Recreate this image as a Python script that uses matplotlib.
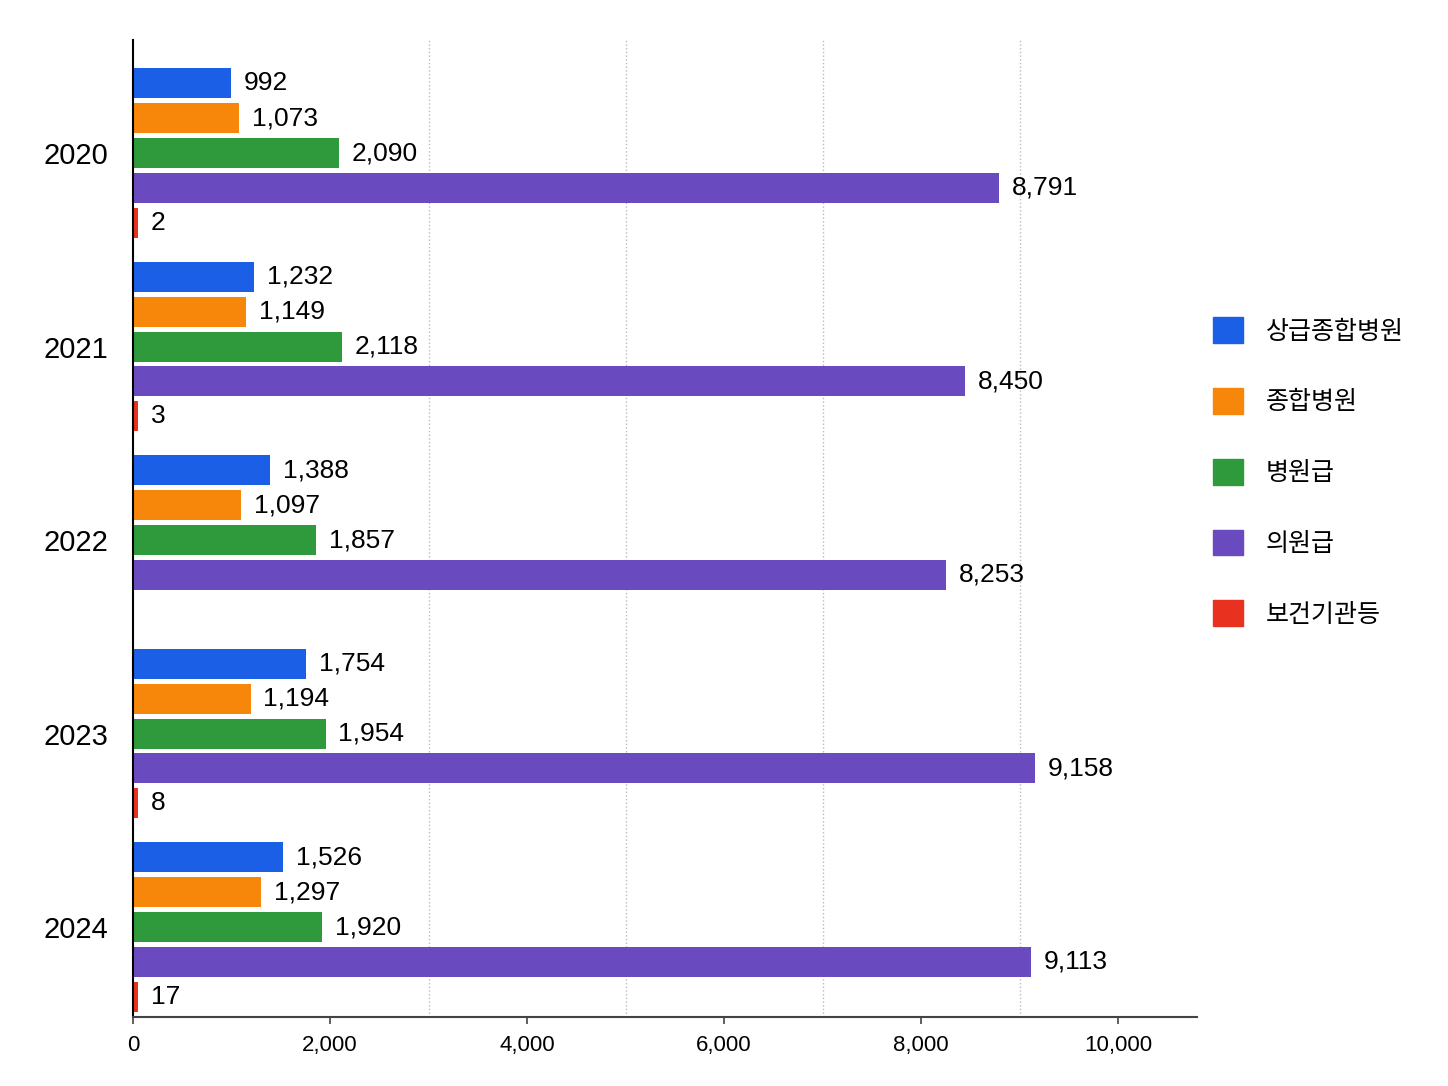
import matplotlib
matplotlib.use("Agg")
import matplotlib.pyplot as plt
import numpy as np
from matplotlib.patches import Patch

plt.rcParams['font.family'] = ['Liberation Sans', 'Noto Sans CJK KR', 'DejaVu Sans']

years = ['2020', '2021', '2022', '2023', '2024']
series = ['상급종합병원', '종합병원', '병원급', '의원급', '보건기관등']
s1 = [992, 1232, 1388, 1754, 1526]
s2 = [1073, 1149, 1097, 1194, 1297]
s3 = [2090, 2118, 1857, 1954, 1920]
s4 = [8791, 8450, 8253, 9158, 9113]
s5 = [2, 3, None, 8, 17]
colors = ['#1a5fe6', '#f7870a', '#2e9a3c', '#6a4bbf', '#e8311f']

fig = plt.figure(figsize=(14.48, 10.86), dpi=100)
ax = fig.add_axes([133/1448, 1-1017/1086, (1197-133)/1448, (1017-40)/1086])

step = 0.18
bh = 0.155
centers = np.arange(len(years))
all_series = [s1, s2, s3, s4, s5]
for i, (vals, c) in enumerate(zip(all_series, colors)):
    off = (i - 2) * step
    for j, v in enumerate(vals):
        if v is None:
            continue
        y = centers[j] + off
        ax.barh(y, max(v, 50), height=bh, color=c)
        ax.text(max(v, 50) + 130, y, f"{v:,}", va='center', ha='left', fontsize=19)

ax.set_ylim(4.465, -0.584)
ax.set_xlim(0, 10800)
ax.set_yticks(centers)
ax.set_yticklabels(years, fontsize=21)
ax.tick_params(axis='y', length=0, pad=18)
ax.set_xticks([0, 2000, 4000, 6000, 8000, 10000])
ax.set_xticklabels(['0', '2,000', '4,000', '6,000', '8,000', '10,000'], fontsize=16)
ax.tick_params(axis='x', length=5, width=1.2, pad=8, color='#444444')
ax.set_xticks([3000, 5000, 7000, 9000], minor=True)
ax.tick_params(axis='x', which='minor', length=0)
ax.grid(axis='x', which='minor', linestyle=':', color='#bbbbbb', linewidth=1)
ax.set_axisbelow(True)
for s in ['top', 'right']:
    ax.spines[s].set_visible(False)
ax.spines['left'].set_linewidth(1.5)
ax.spines['left'].set_color('black')
ax.spines['bottom'].set_linewidth(1.5)
ax.spines['bottom'].set_color('#444444')

handles = [Patch(facecolor=c, edgecolor=c) for c in colors]
fig.legend(handles, series, loc='center left', bbox_to_anchor=(1213/1448, 1-472/1086),
           frameon=False, fontsize=18, handleheight=1.2, handlelength=1.2,
           labelspacing=1.78, handletextpad=0.9, borderpad=0, borderaxespad=0)

fig.savefig('out.png', dpi=100, facecolor='white')
